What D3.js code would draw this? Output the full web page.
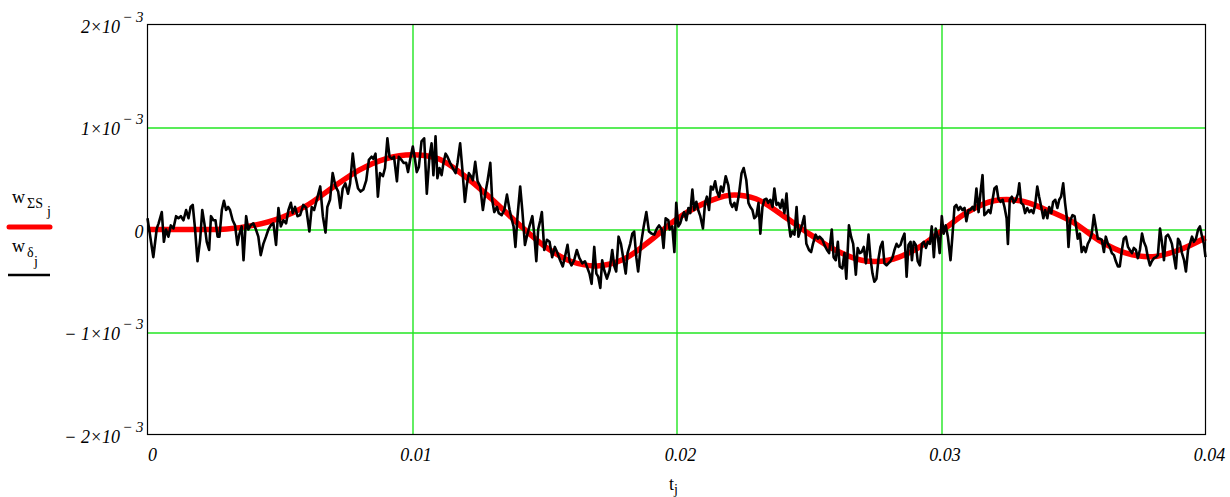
<!DOCTYPE html>
<html>
<head>
<meta charset="utf-8">
<script src="https://cdn.jsdelivr.net/npm/d3@7"></script>
<style>
  body { margin: 0; background: #fff; }
  text { font-family: "Liberation Serif", "Times New Roman", serif; fill: #000; }
</style>
</head>
<body>
<div id="chart"></div>
<script>

// t in ms (x10^-3 s), w in units of 10^-3

// smooth response w_ΣS, read every 1 ms
const tSmooth = [0,1,2,3,4,5,6,7,8,9,10,11,12,13,14,15,16,17,18,19,20,
                 21,22,23,24,25,26,27,28,29,30,31,32,33,34,35,36,37,38,39,40];
const wSmooth = [0,0,0,0.005,0.04,0.11,0.23,0.41,0.58,0.69,0.73,0.69,0.52,0.30,0.06,-0.16,-0.31,-0.355,-0.29,-0.11,0.10,
                 0.25,0.335,0.30,0.14,-0.04,-0.20,-0.30,-0.30,-0.20,-0.02,0.17,0.28,0.28,0.19,0.07,-0.11,-0.23,-0.265,-0.2,-0.08];

const wNoisy = [
  [0,0.11],[0.22,-0.27],[0.35,0.01],[0.42,0.06],[0.54,0.17],[0.62,-0.12],[0.70,0],[0.79,-0.07],[0.88,0.04],[0.98,0.01],
  [1.08,0.13],[1.17,0.11],[1.26,0.13],[1.36,0.09],[1.46,0.19],[1.55,0.11],[1.63,0.22],[1.71,0.24],[1.80,0],[1.89,-0.31],
  [1.99,-0.10],[2.07,0.19],[2.15,0.06],[2.24,-0.12],[2.33,-0.20],[2.40,0.13],[2.49,0.09],[2.57,0.09],[2.65,-0.07],[2.72,-0.07],
  [2.81,0.19],[2.89,0.28],[2.97,0.19],[3.05,0.22],[3.12,0.19],[3.22,0.09],[3.31,0.04],[3.40,-0.15],[3.47,-0.05],[3.56,0.03],
  [3.63,-0.30],[3.73,0.13],[3.81,0],[3.90,0.04],[4.00,0.06],[4.10,0],[4.19,-0.07],[4.28,-0.25],[4.38,-0.14],[4.48,-0.07],
  [4.57,0],[4.66,0.04],[4.76,0.06],[4.86,-0.15],[4.95,0.21],
  [5.04,0.03],[5.14,0.09],[5.24,0.06],[5.33,0.19],[5.42,0.26],[5.49,0.16],[5.58,0.22],[5.67,0.13],[5.77,0.14],[5.89,0.24],
  [6.00,0.21],[6.12,-0.02],[6.21,0.22],[6.30,0.19],[6.40,0.29],[6.53,0.42],[6.63,0.13],[6.73,-0.03],[6.80,0.22],[6.90,0.29],
  [7.00,0.55],[7.11,0.42],[7.21,0.37],[7.29,0.21],[7.38,0.40],[7.48,0.45],[7.58,0.35],[7.66,0.45],[7.76,0.74],[7.86,0.52],
  [7.96,0.40],[8.06,0.37],[8.16,0.39],[8.27,0.48],[8.37,0.68],[8.47,0.71],[8.54,0.69],[8.62,0.74],[8.71,0.32],[8.79,0.55],
  [8.90,0.52],[8.98,0.60],[9.07,0.89],[9.15,0.71],[9.24,0.69],[9.32,0.71],[9.43,0.47],[9.50,0.71],[9.60,0.68],[9.68,0.65],
  [9.78,0.65],[9.85,0.56],[9.93,0.68],[10.03,0.81],[10.11,0.69],[10.18,0.56],[10.26,0.61],[10.36,0.86],[10.46,0.89],[10.56,0.35],
  [10.66,0.71],[10.74,0.84],[10.81,0.53],[10.89,0.91],[10.96,0.50],[11.04,0.60],[11.12,0.53],[11.19,0.65],[11.27,0.74],[11.34,0.71],
  [11.44,0.65],[11.54,0.60],[11.65,0.55],[11.72,0.65],[11.82,0.84],[11.90,0.60],[12.00,0.27],[12.07,0.43],[12.15,0.55],[12.23,0.52],
  [12.30,0.48],[12.39,0.66],[12.48,0.47],[12.58,0.42],[12.68,0.19],[12.77,0.35],[12.86,0.48],[12.96,0.65],[13.03,0.29],[13.11,0.17],
  [13.21,0.22],[13.28,0.16],[13.39,0.14],[13.49,0.19],[13.59,0.34],[13.69,0.19],[13.76,0.11],[13.84,0.03],[13.91,-0.17],[13.99,0.13],
  [14.09,0.42],[14.17,0.19],[14.27,-0.15],[14.34,-0.07],[14.44,0.03],[14.55,0.13],[14.62,-0.04],[14.70,-0.31],[14.77,0],[14.85,0.09],
  [14.91,0.17],[15.00,-0.20],[15.10,-0.10],[15.20,-0.12],[15.30,-0.27],[15.40,-0.17],[15.50,-0.23],[15.60,-0.30],[15.70,-0.36],[15.78,-0.27],
  [15.88,-0.15],[15.96,-0.31],[16.03,-0.35],[16.13,-0.30],[16.23,-0.20],[16.33,-0.28],[16.44,-0.33],[16.54,-0.31],[16.61,-0.36],[16.71,-0.43],
  [16.79,-0.53],[16.89,-0.17],[16.97,-0.43],[17.04,-0.46],[17.12,-0.57],[17.19,-0.30],[17.27,-0.40],[17.37,-0.48],[17.47,-0.40],[17.57,-0.20],
  [17.65,-0.36],[17.72,-0.41],[17.81,-0.07],[17.90,-0.14],[18.00,-0.30],[18.08,-0.43],[18.15,-0.23],[18.25,-0.14],[18.33,-0.04],[18.40,-0.02],
  [18.48,-0.27],[18.55,-0.41],[18.66,-0.14],[18.76,0.03],[18.86,0.17],[18.96,-0.02],[19.06,-0.04],[19.16,-0.05],[19.26,0.01],[19.34,0.04],
  [19.44,0],[19.51,-0.18],[19.59,0.11],[19.69,0.09],
  [19.74,0],[19.84,0.03],[19.92,-0.22],[19.99,0.26],[20.07,0.03],[20.14,0.06],[20.22,0.13],[20.29,0.17],[20.37,0.09],[20.45,0.21],
  [20.52,0.16],[20.60,0.39],[20.67,0.19],[20.75,0.27],[20.82,0.19],[20.90,0.13],[21.00,0.01],[21.08,0.26],[21.15,0.32],[21.23,0.19],
  [21.30,0.42],[21.38,0.39],[21.46,0.47],[21.53,0.37],[21.61,0.32],[21.68,0.42],[21.76,0.37],[21.86,0.52],[21.96,0.43],[22.04,0.26],
  [22.11,0.22],[22.19,0.26],[22.26,0.19],[22.36,0.34],[22.46,0.55],[22.54,0.60],[22.64,0.48],[22.72,0.26],[22.79,0.22],[22.87,0.19],
  [22.94,0.11],[23.02,0.13],[23.10,0.26],[23.17,-0.04],[23.25,0.22],[23.32,0.29],[23.40,0.30],[23.47,0.26],[23.55,0.29],[23.63,0.22],
  [23.70,0.40],[23.78,0.24],[23.85,0.26],[23.93,0.21],[24.00,0.29],[24.08,0.16],[24.16,0.35],[24.23,0.09],[24.31,-0.07],[24.38,-0.02],
  [24.46,-0.05],[24.54,0.22],[24.61,-0.07],
  [24.76,0.06],[24.83,0.13],[24.91,-0.14],[25.01,-0.20],[25.09,-0.22],[25.16,-0.14],[25.26,-0.05],[25.34,-0.09],[25.41,-0.07],[25.52,-0.10],
  [25.59,-0.15],[25.69,-0.20],[25.77,-0.23],[25.87,0],[25.94,-0.27],[26.02,-0.30],[26.10,-0.12],[26.17,-0.36],[26.27,-0.38],[26.35,-0.23],
  [26.42,-0.48],[26.52,0.04],[26.60,-0.07],[26.68,-0.14],[26.78,-0.44],[26.85,-0.18],[26.93,-0.23],[27.00,-0.22],[27.08,-0.17],[27.16,-0.33],
  [27.26,-0.05],[27.33,-0.27],[27.41,-0.43],[27.48,-0.51],[27.56,-0.48],[27.64,-0.28],[27.71,-0.17],[27.79,-0.12],[27.86,-0.33],[27.94,-0.35],
  [28.01,-0.33],[28.09,-0.31],[28.17,-0.27],[28.24,-0.20],[28.32,-0.14],[28.39,-0.17],[28.47,-0.15],[28.54,-0.09],[28.62,-0.04],[28.70,-0.46],
  [28.77,-0.15],[28.85,-0.12],[28.90,-0.30],[28.97,-0.12],[29.05,-0.15],[29.12,-0.31],[29.20,-0.35],[29.28,-0.14],[29.35,-0.12],[29.43,-0.18],
  [29.50,-0.12],[29.58,-0.14],
  [29.65,0.03],[29.73,-0.27],[29.80,0.01],[29.88,-0.07],[29.95,-0.23],[30.03,0.13],[30.10,-0.04],[30.18,0.04],[30.26,-0.07],[30.36,-0.30],
  [30.43,-0.07],[30.51,0.22],[30.58,0.24],[30.66,0.19],[30.73,0.22],[30.81,0.19],[30.89,0.21],[30.96,0.08],[31.04,0.19],[31.11,0.19],
  [31.19,0.22],[31.26,0.19],[31.34,0.40],[31.42,0.17],[31.49,0.35],[31.57,0.53],[31.64,0.14],[31.72,0.16],[31.80,0.19],[31.87,0.16],
  [31.95,0.29],[32.02,0.40],[32.10,0.42],[32.17,0.30],[32.25,0.27],[32.33,0.29],[32.40,0.22],[32.48,0.11],[32.53,-0.14],[32.60,0.29],
  [32.68,0.32],[32.75,0.26],[32.83,0.29],[32.91,0.35],[32.96,0.45],[33.03,0.26],[33.11,0.24],[33.18,0.16],[33.26,0.21],[33.34,0.17],
  [33.41,0.19],[33.49,0.16],[33.56,0.24],[33.64,0.42],[33.71,0.32],[33.79,0.22],[33.87,0.11],[33.94,0.19],[34.02,0.11],[34.09,0.22],
  [34.17,0.16],[34.24,0.27],[34.32,0.29],[34.40,0.21],[34.47,0.29],
  [34.54,0.32],[34.62,0.45],[34.69,0.26],[34.77,0.09],[34.82,-0.17],[34.89,0.09],[34.97,0.14],[35.05,0.13],[35.12,0.01],[35.17,-0.09],
  [35.25,-0.04],[35.32,-0.22],[35.40,-0.17],[35.47,-0.22],[35.55,-0.14],[35.63,-0.10],[35.70,-0.04],[35.78,0.14],[35.85,0.03],[35.93,-0.09],
  [36.00,-0.09],[36.08,-0.10],[36.16,-0.22],[36.23,-0.07],[36.31,-0.14],[36.38,-0.17],[36.46,-0.23],[36.54,-0.25],[36.61,-0.31],[36.69,-0.36],
  [36.76,-0.36],[36.84,-0.20],[36.91,-0.09],[36.99,-0.07],[37.07,-0.17],[37.14,-0.20],[37.22,-0.23],[37.29,-0.18],[37.37,-0.20],[37.44,-0.28],
  [37.52,-0.20],[37.60,-0.04],[37.67,-0.12],[37.75,-0.17],[37.82,-0.27],[37.90,-0.35],[37.97,-0.31],[38.05,-0.28],[38.13,-0.27],[38.20,-0.25],
  [38.28,0.01],[38.35,-0.12],[38.43,-0.30],[38.50,-0.07],[38.58,-0.05],[38.66,-0.09],[38.73,-0.14],[38.81,-0.27],[38.88,-0.38],[38.96,-0.09],
  [39.03,-0.12],[39.11,-0.23],[39.19,-0.30],[39.26,-0.41],[39.34,-0.20],[39.41,-0.14],[39.49,-0.07],[39.56,-0.12],[39.64,-0.09],[39.72,0],
  [39.79,0.03],[39.87,-0.07],[39.94,-0.14],[40.00,-0.27]
];

// axis ticks
const xTicks = [0, 10, 20, 30, 40];
const xTickLabels = ["0", "0.01", "0.02", "0.03", "0.04"];
const yTicks = [2, 1, 0, -1, -2];
const yTickLabels = [["2×10", "− 3"], ["1×10", "− 3"], ["0", ""], ["− 1×10", "− 3"], ["− 2×10", "− 3"]];

function drawChart(width, height, selector) {

  let margin = { top: 24.5, left: 147.5, right: 24.5, bottom: 62.5 };
  let chartWidth = width - margin.left - margin.right;
  let chartHeight = height - margin.top - margin.bottom;

  let x = d3.scaleLinear().domain([0, 40]).range([0, chartWidth]);
  let y = d3.scaleLinear().domain([-2, 2]).range([chartHeight, 0]);

  let svg = d3.select(selector)
    .append("svg")
    .attr("width", width)
    .attr("height", height);

  let chart = svg.append("g")
    .attr("transform", "translate(" + margin.left + "," + margin.top + ")");

  // grid (soft 1px green lines)
  let gridColor = "#22e622";
  chart.selectAll(".vgrid")
    .data(xTicks.slice(1, -1))
    .join("line")
    .attr("class", "vgrid")
    .attr("x1", d => Math.round(x(d)) + 0.5).attr("x2", d => Math.round(x(d)) + 0.5)
    .attr("y1", 0).attr("y2", chartHeight)
    .attr("stroke", gridColor).attr("stroke-width", 1.4);

  chart.selectAll(".hgrid")
    .data(yTicks.slice(1, -1))
    .join("line")
    .attr("class", "hgrid")
    .attr("x1", 0).attr("x2", chartWidth)
    .attr("y1", d => Math.round(y(d)) + 0.5).attr("y2", d => Math.round(y(d)) + 0.5)
    .attr("stroke", gridColor).attr("stroke-width", 1.4);

  // lines
  let smoothLine = d3.line()
    .x((d, i) => x(tSmooth[i]))
    .y(d => y(d))
    .curve(d3.curveCatmullRom);

  chart.append("path")
    .datum(wSmooth)
    .attr("d", smoothLine)
    .attr("fill", "none")
    .attr("stroke", "#ff0000")
    .attr("stroke-width", 5.5)
    .attr("stroke-linejoin", "round");

  let noisyLine = d3.line()
    .x(d => x(d[0]))
    .y(d => y(d[1]));

  chart.append("path")
    .datum(wNoisy)
    .attr("d", noisyLine)
    .attr("fill", "none")
    .attr("stroke", "#000")
    .attr("stroke-width", 2.6)
    .attr("stroke-linejoin", "round");

  // frame
  chart.append("rect")
    .attr("x", 0).attr("y", 0)
    .attr("width", chartWidth).attr("height", chartHeight)
    .attr("fill", "none")
    .attr("stroke", "#000")
    .attr("stroke-width", 1.2);

  // y tick labels
  let yLab = chart.selectAll(".ylab")
    .data(yTicks)
    .join("text")
    .attr("x", -4)
    .attr("y", d => y(d) + 8)
    .attr("text-anchor", "end")
    .style("font-style", "italic")
    .style("font-size", "18px");
  yLab.append("tspan").text((d, i) => yTickLabels[i][0]);
  yLab.append("tspan")
    .attr("dx", 2)
    .attr("dy", -11)
    .style("font-size", "15px")
    .text((d, i) => yTickLabels[i][1]);

  // x tick labels
  chart.selectAll(".xlab")
    .data(xTicks)
    .join("text")
    .attr("x", (d, i) => x(d) + (i === 0 ? 5 : 4))
    .attr("y", chartHeight + 26)
    .attr("text-anchor", "middle")
    .style("font-style", "italic")
    .style("font-size", "18px")
    .text((d, i) => xTickLabels[i]);

  // x axis title
  let xt = svg.append("text")
    .attr("x", margin.left + chartWidth / 2 - 3)
    .attr("y", 490)
    .attr("text-anchor", "middle")
    .style("font-size", "18px");
  xt.append("tspan").text("t");
  xt.append("tspan").attr("dy", 4).style("font-size", "14px").text("j");

  // legend
  svg.append("text").attr("x", 12).attr("y", 203).style("font-size", "18px").text("w");
  svg.append("text").attr("x", 27).attr("y", 208).style("font-size", "14px").text("ΣS");
  svg.append("text").attr("x", 47).attr("y", 216).style("font-size", "14px").text("j");
  svg.append("line")
    .attr("x1", 9).attr("x2", 50).attr("y1", 227).attr("y2", 227)
    .attr("stroke", "#ff0000").attr("stroke-width", 5).attr("stroke-linecap", "round");

  svg.append("text").attr("x", 12).attr("y", 252).style("font-size", "18px").text("w");
  svg.append("text").attr("x", 27).attr("y", 257).style("font-size", "14px").text("δ");
  svg.append("text").attr("x", 34).attr("y", 266).style("font-size", "14px").text("j");
  svg.append("line")
    .attr("x1", 8).attr("x2", 50).attr("y1", 275).attr("y2", 275)
    .attr("stroke", "#000").attr("stroke-width", 2.5);
}

drawChart(1230, 497, "#chart");
</script>
</body>
</html>
